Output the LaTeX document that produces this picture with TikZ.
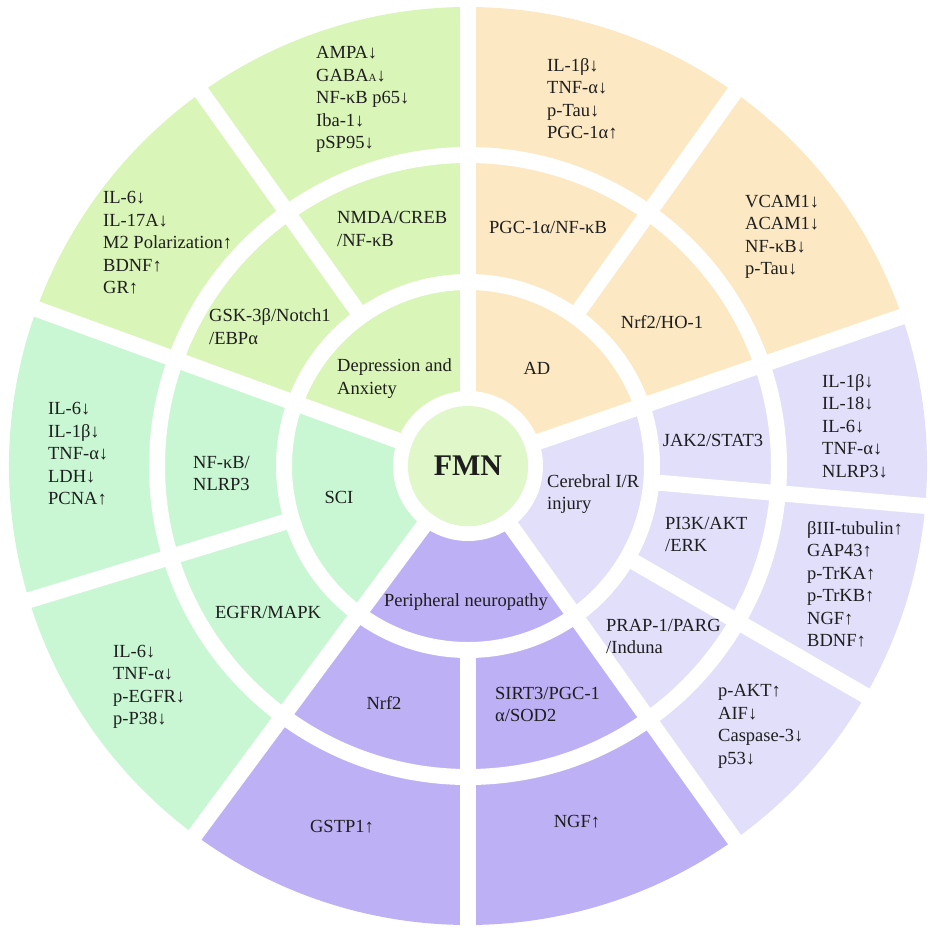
\documentclass[tikz,border=0pt]{standalone}
\usepackage{fontspec}
\setmainfont{Liberation Serif}
\definecolor{cAD}{HTML}{FCE9C4}
\definecolor{cCer}{HTML}{E1DFFA}
\definecolor{cPer}{HTML}{BEB0F4}
\definecolor{cSCI}{HTML}{C9F7D3}
\definecolor{cDep}{HTML}{D9F5B8}
\definecolor{cFMN}{HTML}{E0F8C9}
\definecolor{ink}{HTML}{1E1E1E}
\newcommand\annsec[5]{\fill[#1] (#2:#4) arc[start angle=#2,end angle=#3,radius=#4] -- (#3:#5) arc[start angle=#3,end angle=#2,radius=#5] -- cycle;}
\begin{document}
\begin{tikzpicture}[x=1pt,y=1pt,
  lbl/.style={text=ink, inner sep=0pt, font=\fontsize{18.5}{22.5}\selectfont, align=left},
  lw/.style={lbl, anchor=west},
  gapline/.style={white, line width=16pt},
]
\useasboundingbox (-468,-464) rectangle (463,466);
% coloured sectors
\annsec{cAD}{19}{90}{60pt}{459pt}
\annsec{cCer}{-54.5}{19}{60pt}{459pt}
\annsec{cPer}{-126.5}{-54.5}{60pt}{459pt}
\annsec{cSCI}{160}{233.5}{60pt}{459pt}
\annsec{cDep}{90}{160}{60pt}{459pt}
% white gaps
\draw[white, line width=15pt] (0,0) circle[radius=67.5pt];
\draw[gapline] (0,0) circle[radius=184pt];
\draw[gapline] (0,0) circle[radius=311pt];
\foreach \a in {90,19,-54.5,-126.5,160} \draw[gapline] (0,0) -- (\a:462pt);
\foreach \a in {54.5,-5,-30,-90,-163,125.5} \draw[gapline] (\a:184pt) -- (\a:462pt);
% centre
\fill[cFMN] (0,0) circle[radius=60pt];
\node[text=ink, font=\fontsize{30}{30}\selectfont\bfseries] (fmn) at (0,0) {FMN};
% inner ring
\node[lw] (dep) at (-131,87.5) {Depression and\\Anxiety};
\node[lbl] (ad) at (69,98) {AD};
\node[lw] (cer) at (79,-28) {Cerebral I/R\\injury};
\node[lbl] (per) at (-2,-136) {Peripheral neuropathy};
\node[lbl] (sci) at (-129,-31) {SCI};
% middle ring
\node[lw] (nmda) at (-131,237) {NMDA/CREB\\/NF-κB};
\node[lw] (gsk) at (-259,139.5) {GSK-3β/Notch1\\/EBPα};
\node[lw] (nfkb) at (-275,-7.5) {NF-κB/\\NLRP3};
\node[lbl] (egfr) at (-200,-146) {EGFR/MAPK};
\node[lbl] (nrfp) at (-84,-237) {Nrf2};
\node[lw] (sirt) at (27,-238.5) {SIRT3/PGC-1\\α/SOD2};
\node[lw] (prap) at (138,-170.5) {PRAP-1/PARG\\/Induna};
\node[lw] (pik) at (197,-68.5) {PI3K/AKT\\/ERK};
\node[lbl] (jak) at (245,26) {JAK2/STAT3};
\node[lbl] (nrfho) at (194,144) {Nrf2/HO-1};
\node[lbl] (pgc) at (80,239) {PGC-1α/NF-κB};
% outer ring
\node[lw] (o1) at (79,367) {IL-1β↓\\TNF-α↓\\p-Tau↓\\PGC-1α↑};
\node[lw] (o2) at (277,229) {VCAM1↓\\ACAM1↓\\NF-κB↓\\p-Tau↓};
\node[lw] (o3) at (354,40) {IL-1β↓\\IL-18↓\\IL-6↓\\TNF-α↓\\NLRP3↓};
\node[lw] (o4) at (339,-118.5) {βIII-tubulin↑\\GAP43↑\\p-TrKA↑\\p-TrKB↑\\NGF↑\\BDNF↑};
\node[lw] (o5) at (250,-260.5) {p-AKT↑\\AIF↓\\Caspase-3↓\\p53↓};
\node[lbl] (o6) at (109,-356) {NGF↑};
\node[lbl] (o7) at (-126,-361) {GSTP1↑};
\node[lw] (o8) at (-355,-221) {IL-6↓\\TNF-α↓\\p-EGFR↓\\p-P38↓};
\node[lw] (o9) at (-420,12) {IL-6↓\\IL-1β↓\\TNF-α↓\\LDH↓\\PCNA↑};
\node[lw] (o10) at (-365,223) {IL-6↓\\IL-17A↓\\M2 Polarization↑\\BDNF↑\\GR↑};
\node[lw] (o11) at (-152,366.5) {AMPA↓\\GABA{\fontsize{11}{11}\selectfont A}↓\\NF-κB p65↓\\Iba-1↓\\pSP95↓};
\end{tikzpicture}
\end{document}
